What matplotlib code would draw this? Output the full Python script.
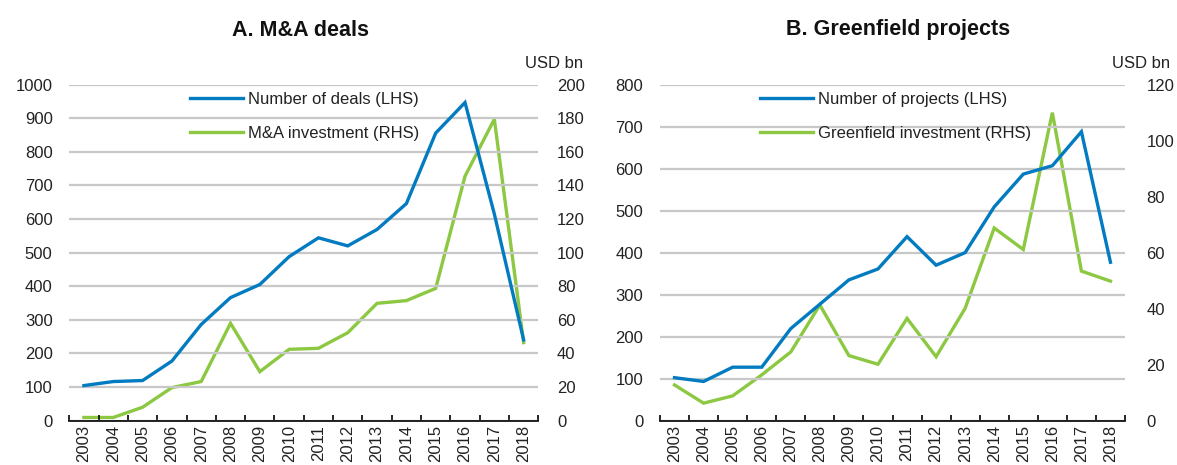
import matplotlib
matplotlib.use("Agg")
import matplotlib.pyplot as plt
from matplotlib.ticker import FixedLocator

plt.rcParams['font.family'] = ['Liberation Sans', 'DejaVu Sans']

years = [str(y) for y in range(2003, 2019)]

ma_deals = [104, 116, 119, 177, 286, 366, 405, 488, 544, 520, 569, 646, 856, 947, 615, 240]
ma_invest = [1.8, 1.8, 7.9, 19.6, 23.2, 57.9, 29.1, 42.4, 43.0, 52.3, 69.8, 71.4, 78.7, 145.5, 179.5, 46.4]

gf_projects = [102, 93, 127, 127, 219, 277, 335, 361, 438, 370, 400, 509, 587, 607, 688, 377]
gf_invest = [12.7, 6.2, 8.8, 16.3, 24.5, 41.3, 23.2, 20.1, 36.5, 22.8, 40.1, 68.8, 61.1, 110.0, 53.4, 49.8]

BLUE = '#037BC1'
GREEN = '#8CC841'
GRID = '#C8C8C8'
TXT = '#222222'

W, H = 1177, 465
fig = plt.figure(figsize=(W / 100, H / 100), dpi=100)


def px_rect(left, right, top, bottom):
    return [left / W, 1 - bottom / H, (right - left) / W, (bottom - top) / H]


FS = 12


def panel(rect, title, title_x, lhs, rhs, lhs_lab, rhs_lab, lmax, lstep, rmax, rstep,
          leg_x, rpad):
    ax = fig.add_axes(rect)
    x = list(range(len(years)))
    ax.set_xlim(-0.5, len(years) - 0.5)
    ax.set_ylim(0, lmax)
    ax.set_yticks(range(0, lmax + 1, lstep))
    ax.yaxis.grid(True, color=GRID, linewidth=1.6)
    ax.set_axisbelow(True)
    for s in ['top', 'right', 'left']:
        ax.spines[s].set_visible(False)
    ax.spines['bottom'].set_linewidth(1.2)
    ax.spines['bottom'].set_color('black')
    ax.spines['bottom'].set_zorder(5)
    ax.tick_params(axis='y', length=0, pad=12, labelsize=FS, colors=TXT)
    ax.set_xticks(x)
    ax.set_xticklabels(years, rotation=90, fontsize=FS, color=TXT)
    ax.tick_params(axis='x', which='major', length=0, pad=3)
    ax.xaxis.set_minor_locator(FixedLocator([i - 0.5 for i in range(len(years) + 1)]))
    ax.tick_params(axis='x', which='minor', direction='in', length=4.5, width=1.2, color='black')

    ax2 = ax.twinx()
    ax2.set_ylim(0, rmax)
    ax2.set_yticks(range(0, rmax + 1, rstep))
    for s in ['top', 'right', 'left', 'bottom']:
        ax2.spines[s].set_visible(False)
    ax2.tick_params(axis='y', length=0, pad=rpad, labelsize=FS, colors=TXT)

    l1, = ax2.plot([], [], color=BLUE, linewidth=2.4)
    ax.plot(x, lhs, color=BLUE, linewidth=2.4, solid_joinstyle='miter', zorder=3)
    l2, = ax2.plot(x, rhs, color=GREEN, linewidth=2.4, solid_joinstyle='miter', zorder=3)
    ax.set_zorder(ax2.get_zorder() + 1)
    ax.patch.set_visible(False)
    ax2.patch.set_visible(False)
    leg = ax.legend([l1, l2], [lhs_lab, rhs_lab], loc='upper left',
                    bbox_to_anchor=(leg_x / W, 1 - 92 / H), bbox_transform=fig.transFigure,
                    frameon=False, fontsize=FS, handlelength=3.2, handletextpad=0.3,
                    borderpad=0, borderaxespad=0, labelspacing=1.12)
    for t in leg.get_texts():
        t.set_color(TXT)

    fig.text(title_x / W, 1 - 30 / H, title, ha='center', va='center',
             fontsize=15.5, fontweight='bold', color='#111111')
    return ax, ax2


axA, axA2 = panel(px_rect(69.3, 538.3, 84.7, 420.5), 'A. M&A deals', 300,
                  ma_deals, ma_invest, 'Number of deals (LHS)', 'M&A investment (RHS)',
                  1000, 100, 200, 20, 190, 13.5)
axB, axB2 = panel(px_rect(660, 1125, 84.7, 420.5), 'B. Greenfield projects', 898,
                  gf_projects, gf_invest, 'Number of projects (LHS)', 'Greenfield investment (RHS)',
                  800, 100, 120, 20, 760, 15.5)

fig.text(583 / W, 1 - 63 / H, 'USD bn', ha='right', va='center', fontsize=FS, color=TXT)
fig.text(1170 / W, 1 - 63 / H, 'USD bn', ha='right', va='center', fontsize=FS, color=TXT)

fig.savefig('out.png', dpi=100)
